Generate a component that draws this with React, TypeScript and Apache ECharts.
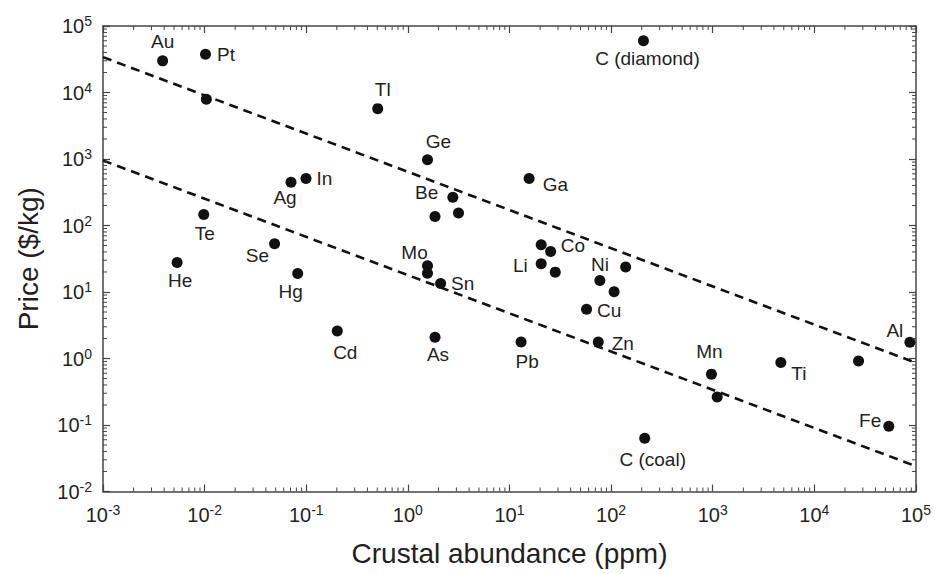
import React, { useEffect, useRef } from "react";
import * as echarts from "echarts";

const elements = ["Au","Pt","","Tl","C (diamond)","Ge","Ga","In","Ag","Be","","","Te","Se","He","Hg","Mo","","Sn","Co","","Li","","Ni","","","Cu","Cd","As","Pb","Zn","Mn","","Ti","","Al","Fe","C (coal)"];
const abundance = [0.00386,0.0102,0.0104,0.505,208,1.56,15.6,0.0995,0.0708,2.77,1.85,3.15,0.0098,0.0488,0.00536,0.0824,1.56,1.56,2.1,20.5,25.4,20.5,28.2,77.5,107,139,57.3,0.202,1.85,13.0,74.7,971,1106,4677,27200,87100,54000,214];
const price = [29900,37700,7890,5720,59800,972,508,508,447,265,137,154,146,53.1,27.7,19.0,24.8,19.2,13.4,51.3,40.7,26.5,19.9,14.9,10.1,23.7,5.5,2.59,2.08,1.77,1.77,0.582,0.264,0.873,0.914,1.75,0.0955,0.063];

const trendX = [0.001, 100000];
const upperTrend = [34000, 0.86];
const lowerTrend = [950, 0.024];

const xDecades = [-3, -2, -1, 0, 1, 2, 3, 4];
const yDecades = [-2, -1, 0, 1, 2, 3, 4];
const minorMultipliers = [2, 3, 4, 5, 6, 7, 8, 9];

const X_MIN = 0.001, X_MAX = 100000, Y_MIN = 0.01, Y_MAX = 100000;

const labelPlacement: Record<string, { position: string; offset: number[] }> = {
  "Au": { position: "top", offset: [0, 1] },
  "Pt": { position: "right", offset: [1, 0] },
  "Tl": { position: "top", offset: [5, 1] },
  "C (diamond)": { position: "bottom", offset: [4, -2] },
  "Ge": { position: "top", offset: [11, 2] },
  "Ga": { position: "right", offset: [3, 6] },
  "In": { position: "right", offset: [0, 0] },
  "Ag": { position: "bottom", offset: [-6, -5] },
  "Be": { position: "left", offset: [-4, -5] },
  "Te": { position: "bottom", offset: [1, -1] },
  "Se": { position: "left", offset: [5, 12] },
  "He": { position: "bottom", offset: [3, -2] },
  "Hg": { position: "bottom", offset: [-7, -2] },
  "Mo": { position: "top", offset: [-13, 7] },
  "Sn": { position: "right", offset: [0, 0] },
  "Co": { position: "right", offset: [9, 1] },
  "Li": { position: "left", offset: [-3, 2] },
  "Ni": { position: "top", offset: [0, 4] },
  "Cu": { position: "right", offset: [0, 1] },
  "Zn": { position: "right", offset: [3, 1] },
  "Pb": { position: "bottom", offset: [6, -1] },
  "Cd": { position: "bottom", offset: [8, 1] },
  "As": { position: "bottom", offset: [3, -3] },
  "Mn": { position: "top", offset: [-2, -3] },
  "Ti": { position: "right", offset: [0, 11] },
  "Al": { position: "top", offset: [-15, 8] },
  "Fe": { position: "left", offset: [3, -6] },
  "C (coal)": { position: "bottom", offset: [8, 1] },
};

const FONT = "Liberation Sans, Arial, Helvetica, sans-serif";
const TEXT = "#231f20";
const AXIS = "#444";

function powLabel(v: number) {
  const e = Math.round(Math.log10(v));
  return "{b|10}{s|" + e + "}";
}

const richLabel = {
  b: { fontSize: 20, fontFamily: FONT, color: TEXT, lineHeight: 24 },
  s: { fontSize: 14, fontFamily: FONT, color: TEXT, lineHeight: 14, verticalAlign: "top" },
};

export default function App() {
  const ref = useRef<HTMLDivElement>(null);
  useEffect(() => {
    if (!ref.current) return;
    const chart = echarts.init(ref.current, undefined, { renderer: "svg" });

    const xMinor: number[][] = [];
    xDecades.forEach((d) => minorMultipliers.forEach((m) => xMinor.push([m * Math.pow(10, d), Y_MIN])));
    const yMinor: number[][] = [];
    yDecades.forEach((d) => minorMultipliers.forEach((m) => yMinor.push([X_MIN, m * Math.pow(10, d)])));

    const points = elements.map((name, i) => {
      const p = labelPlacement[name];
      return {
        name,
        value: [abundance[i], price[i]],
        label: p
          ? { show: true, position: p.position, offset: p.offset }
          : { show: false },
      };
    });

    const baseAxis = {
      type: "log",
      logBase: 10,
      interval: 1,
      axisLine: { show: true, onZero: false, lineStyle: { color: AXIS, width: 1.5 } },
      axisTick: { show: true, inside: true, length: 7, lineStyle: { color: AXIS, width: 1.2 } },
      splitLine: { show: false },
      minorTick: { show: false },
    };

    chart.setOption({
      animation: false,
      backgroundColor: "#fff",
      grid: { left: 103, right: 19, top: 26, bottom: 82.5, containLabel: false, outerBoundsMode: "none" },
      xAxis: [
        {
          ...baseAxis,
          min: X_MIN,
          max: X_MAX,
          position: "bottom",
          name: "Crustal abundance (ppm)",
          nameLocation: "middle",
          nameGap: 48,
          nameTextStyle: { fontSize: 28, fontFamily: FONT, color: TEXT },
          axisLabel: { margin: 11, formatter: powLabel, rich: richLabel },
        },
        {
          ...baseAxis,
          min: X_MIN,
          max: X_MAX,
          position: "top",
          axisLabel: { show: false },
        },
      ],
      yAxis: [
        {
          ...baseAxis,
          min: Y_MIN,
          max: Y_MAX,
          position: "left",
          name: "Price ($/kg)",
          nameLocation: "middle",
          nameGap: 61,
          nameRotate: 90,
          nameTextStyle: { fontSize: 28, fontFamily: FONT, color: TEXT },
          axisLabel: { margin: 11, formatter: powLabel, rich: richLabel },
        },
        {
          ...baseAxis,
          min: Y_MIN,
          max: Y_MAX,
          position: "right",
          axisLabel: { show: false },
        },
      ],
      series: [
        {
          type: "line",
          data: trendX.map((x, i) => [x, upperTrend[i]]),
          symbol: "none",
          lineStyle: { color: "#111", width: 2.6, type: [9, 6] },
          silent: true,
          z: 3,
        },
        {
          type: "line",
          data: trendX.map((x, i) => [x, lowerTrend[i]]),
          symbol: "none",
          lineStyle: { color: "#111", width: 2.6, type: [9, 6] },
          silent: true,
          z: 3,
        },
        {
          type: "scatter",
          data: points,
          symbol: "circle",
          symbolSize: 11,
          itemStyle: { color: "#111", opacity: 1 },
          label: {
            formatter: "{b}",
            fontSize: 19,
            fontFamily: FONT,
            color: TEXT,
            opacity: 1,
            distance: 5,
          },
          z: 5,
        },
        {
          type: "custom",
          data: xMinor,
          silent: true,
          clip: false,
          z: 10,
          renderItem: (params: any, api: any) => {
            const v = api.value(0);
            const b = api.coord([v, Y_MIN]);
            const t = api.coord([v, Y_MAX]);
            const st = { stroke: AXIS, lineWidth: 1 };
            return {
              type: "group",
              children: [
                { type: "line", shape: { x1: b[0], y1: b[1], x2: b[0], y2: b[1] - 4 }, style: st },
                { type: "line", shape: { x1: t[0], y1: t[1], x2: t[0], y2: t[1] + 4 }, style: st },
              ],
            };
          },
        },
        {
          type: "custom",
          data: yMinor,
          silent: true,
          clip: false,
          z: 10,
          renderItem: (params: any, api: any) => {
            const v = api.value(1);
            const l = api.coord([X_MIN, v]);
            const r = api.coord([X_MAX, v]);
            const st = { stroke: AXIS, lineWidth: 1 };
            return {
              type: "group",
              children: [
                { type: "line", shape: { x1: l[0], y1: l[1], x2: l[0] + 4, y2: l[1] }, style: st },
                { type: "line", shape: { x1: r[0], y1: r[1], x2: r[0] - 4, y2: r[1] }, style: st },
              ],
            };
          },
        },
      ],
    });
    return () => chart.dispose();
  }, []);

  return (
    <div
      ref={ref}
      style={{ position: "fixed", left: 0, top: 0, width: 935, height: 574, background: "#fff" }}
    />
  );
}
